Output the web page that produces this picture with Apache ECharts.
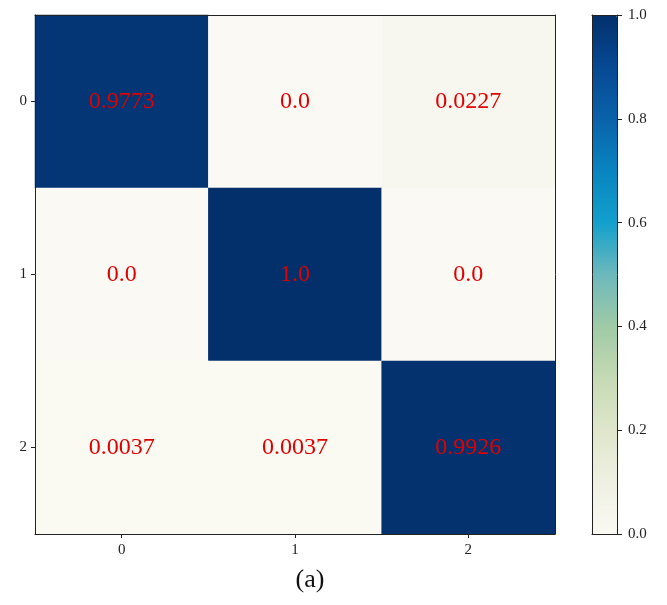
<!DOCTYPE html>
<html>
<head>
<meta charset="utf-8">
<script src="https://cdn.jsdelivr.net/npm/echarts@6/dist/echarts.min.js"></script>
<style>html,body{margin:0;padding:0;background:#fff;}#c{width:667px;height:605px;}</style>
</head>
<body>
<div id="c"></div>
<script>
const xCategories = ['0', '1', '2'];
const yCategories = ['0', '1', '2'];
// rows: true class, columns: predicted class
const row0 = [0.9773, 0.0, 0.0227];
const row1 = [0.0, 1.0, 0.0];
const row2 = [0.0037, 0.0037, 0.9926];
const colorbarTicks = [0, 0.2, 0.4, 0.6, 0.8, 1.0];

const rows = [row0, row1, row2];
const data = [];
rows.forEach((r, yi) => r.forEach((v, xi) => data.push([xi, yi, v])));

const serif = '"Liberation Serif", "DejaVu Serif", serif';
const frameLine = {show: true, onZero: false, lineStyle: {color: '#222', width: 1}};
const hiddenBits = {axisTick: {show: false}, axisLabel: {show: false}, splitLine: {show: false}};

const chart = echarts.init(document.getElementById('c'), null, {renderer: 'canvas'});
chart.setOption({
  animation: false,
  backgroundColor: '#fff',
  title: {
    text: '(a)', left: 305, top: 562, textAlign: 'center',
    textStyle: {fontFamily: serif, fontSize: 26, fontWeight: 'normal', color: '#111'}
  },
  grid: [
    {left: 35, top: 15, width: 520, height: 519, show: false},
    {left: 592, top: 15, width: 25, height: 519, show: false}
  ],
  xAxis: [
    {type: 'category', gridIndex: 0, data: xCategories, z: 10,
     axisLine: frameLine,
     axisTick: {show: true, alignWithLabel: true, length: 4, lineStyle: {color: '#222'}},
     axisLabel: {fontFamily: serif, fontSize: 15, color: '#222', margin: 9},
     splitLine: {show: false}},
    Object.assign({type: 'category', gridIndex: 0, data: xCategories, position: 'top', z: 10, axisLine: frameLine}, hiddenBits),
    Object.assign({type: 'value', gridIndex: 1, min: 0, max: 1, position: 'bottom', z: 10, axisLine: frameLine}, hiddenBits),
    Object.assign({type: 'value', gridIndex: 1, min: 0, max: 1, position: 'top', z: 10, axisLine: frameLine}, hiddenBits)
  ],
  yAxis: [
    {type: 'category', gridIndex: 0, data: yCategories, inverse: true, z: 10,
     axisLine: frameLine,
     axisTick: {show: true, alignWithLabel: true, length: 4, lineStyle: {color: '#222'}},
     axisLabel: {fontFamily: serif, fontSize: 15, color: '#222', margin: 8},
     splitLine: {show: false}},
    Object.assign({type: 'category', gridIndex: 0, data: yCategories, inverse: true, position: 'right', z: 10, axisLine: frameLine}, hiddenBits),
    {type: 'value', gridIndex: 1, position: 'right', min: 0, max: 1, interval: 0.2, z: 10,
     axisLine: frameLine,
     axisTick: {show: true, length: 5, lineStyle: {color: '#222'}},
     axisLabel: {fontFamily: serif, fontSize: 15, color: '#222', margin: 11,
                 formatter: v => v.toFixed(1)},
     splitLine: {show: false}},
    Object.assign({type: 'value', gridIndex: 1, position: 'left', min: 0, max: 1, z: 10, axisLine: frameLine}, hiddenBits)
  ],
  visualMap: {
    type: 'continuous', min: 0, max: 1, calculable: false, seriesIndex: 0,
    orient: 'vertical', left: 592, top: 15, itemWidth: 25, itemHeight: 519,
    padding: 0, text: null, showLabel: false, hoverLink: false,
    inRange: {color: ['#faf9f3', '#eff0e2', '#dfe6cb', '#c5dab4', '#9fcaa6', '#6db8bc', '#12a0cc', '#0984c0', '#0a62aa', '#074893', '#03306b']}
  },
  series: [
    {type: 'heatmap', xAxisIndex: 0, yAxisIndex: 0, data: data,
     label: {show: true, fontFamily: serif, fontSize: 24, color: '#e00000',
             formatter: p => { const v = p.value[2]; return (v === 0 || v === 1) ? v.toFixed(1) : String(v); }},
     itemStyle: {borderWidth: 0},
     emphasis: {disabled: true}}
  ]
});
</script>
</body>
</html>
